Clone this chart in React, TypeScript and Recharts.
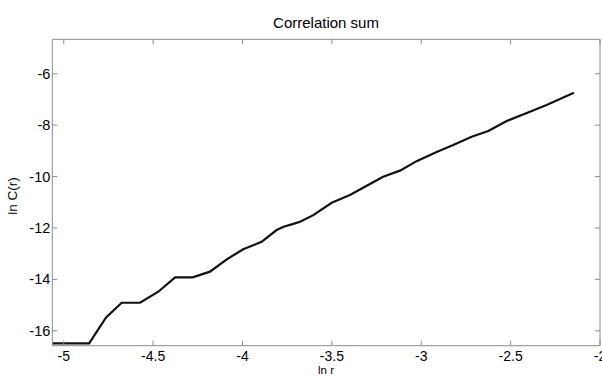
import { LineChart, Line, XAxis, YAxis } from "recharts";

// values
const lnR = [
  -5.064, -4.858, -4.763, -4.676, -4.573, -4.471, -4.377, -4.279, -4.182, -4.088,
  -3.996, -3.893, -3.809, -3.77, -3.72, -3.678, -3.604, -3.501, -3.399, -3.287,
  -3.213, -3.119, -3.026, -2.914, -2.821, -2.718, -2.625, -2.522, -2.392, -2.299,
  -2.146,
];
const lnC = [
  -16.49, -16.49, -15.48, -14.91, -14.91, -14.48, -13.92, -13.92, -13.7, -13.22,
  -12.83, -12.54, -12.08, -11.95, -11.85, -11.76, -11.5, -11.02, -10.72, -10.29,
  -10.01, -9.77, -9.4, -9.04, -8.77, -8.45, -8.23, -7.84, -7.48, -7.22, -6.74,
];
const xTicks = [-5, -4.5, -4, -3.5, -3, -2.5, -2];
const yTicks = [-16, -14, -12, -10, -8, -6];

const data = lnR.map((x, i) => ({ x, y: lnC[i] }));

const AXIS = "#8c8c8c";
const FONT = "'Liberation Sans', Arial, sans-serif";
const GAP = 2; // tickMargin
const TL = 5; // inward tick length

const LeftTick = ({ x, y, payload }: any) => (
  <g>
    <line x1={x + GAP} x2={x + GAP + TL} y1={y} y2={y} stroke={AXIS} />
    <text x={x} y={y} dy={5} textAnchor="end" fontSize={14.5} fill="#000" fontFamily={FONT}>
      {payload.value}
    </text>
  </g>
);

const RightTick = ({ x, y }: any) => (
  <line x1={x - GAP} x2={x - GAP - TL} y1={y} y2={y} stroke={AXIS} />
);

const BottomTick = ({ x, y, payload }: any) => (
  <g>
    <line x1={x} x2={x} y1={y - GAP} y2={y - GAP - TL} stroke={AXIS} />
    <text x={x} y={y + 13.5} textAnchor="middle" fontSize={14} fill="#000" fontFamily={FONT}>
      {payload.value}
    </text>
  </g>
);

const TopTick = ({ x, y }: any) => (
  <line x1={x} x2={x} y1={y + GAP} y2={y + GAP + TL} stroke={AXIS} />
);

export default function App() {
  return (
    <div
      style={{
        position: "absolute",
        left: 0,
        top: 0,
        width: 602,
        height: 376,
        background: "#fff",
        overflow: "hidden",
        fontFamily: FONT,
      }}
    >
      <div
        style={{
          position: "absolute",
          left: 226,
          width: 200,
          top: 13,
          textAlign: "center",
          fontSize: 15,
          lineHeight: "20px",
          color: "#000",
        }}
      >
        Correlation sum
      </div>
      <div
        style={{
          position: "absolute",
          left: 12,
          top: 196,
          transform: "translate(-50%, -50%) rotate(-90deg)",
          fontSize: 13.5,
          whiteSpace: "nowrap",
          color: "#000",
        }}
      >
        ln C(r)
      </div>
      <div
        style={{
          position: "absolute",
          left: 276,
          width: 100,
          top: 365,
          textAlign: "center",
          fontSize: 11.5,
          lineHeight: "11px",
          color: "#000",
        }}
      >
        ln r
      </div>
      <LineChart
        width={602}
        height={376}
        data={data}
        margin={{ top: 38.3, right: 1, bottom: 0, left: 0 }}
      >
        <XAxis
          dataKey="x"
          type="number"
          domain={[-5.064, -2]}
          allowDataOverflow
          ticks={xTicks}
          interval={0}
          height={30.3}
          tickSize={0}
          tickMargin={GAP}
          tickLine={false}
          axisLine={{ stroke: AXIS }}
          tick={<BottomTick />}
        />
        <XAxis
          xAxisId="t"
          orientation="top"
          dataKey="x"
          type="number"
          domain={[-5.064, -2]}
          allowDataOverflow
          ticks={xTicks}
          interval={0}
          height={1}
          tickSize={0}
          tickMargin={GAP}
          tickLine={false}
          axisLine={{ stroke: AXIS }}
          tick={<TopTick />}
        />
        <YAxis
          type="number"
          domain={[-16.58, -4.66]}
          allowDataOverflow
          ticks={yTicks}
          interval={0}
          width={52.3}
          tickSize={0}
          tickMargin={GAP}
          tickLine={false}
          axisLine={{ stroke: AXIS }}
          tick={<LeftTick />}
        />
        <YAxis
          yAxisId="r"
          orientation="right"
          type="number"
          domain={[-16.58, -4.66]}
          allowDataOverflow
          ticks={yTicks}
          interval={0}
          width={1}
          tickSize={0}
          tickMargin={GAP}
          tickLine={false}
          axisLine={{ stroke: AXIS }}
          tick={<RightTick />}
        />
        <Line
          dataKey="y"
          type="linear"
          stroke="#111"
          strokeWidth={2.2}
          dot={false}
          isAnimationActive={false}
        />
      </LineChart>
    </div>
  );
}
